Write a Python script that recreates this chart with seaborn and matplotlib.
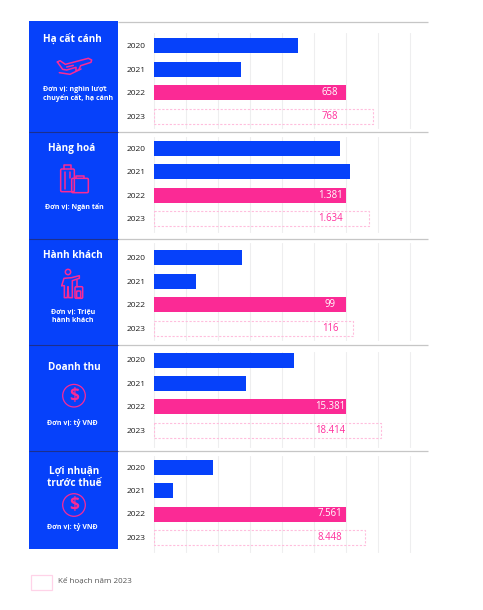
import matplotlib
matplotlib.use("Agg")
import matplotlib.pyplot as plt
from matplotlib.patches import Rectangle, Circle, FancyBboxPatch
import pandas as pd
import seaborn as sns

W, H = 483, 610
BLUE = "#0641FA"
PINK = "#FB2A95"
PLAN = "#FFBEDD"

years = ["2020", "2021", "2022", "2023"]
takeoff_values = [493, 298, 658, 750]
cargo_values = [1338, 1410, 1381, 1544]
passenger_values = [45.4, 21.5, 99, 102.6]
revenue_values = [11240, 7394, 15381, 18160]
profit_values = [2323, 748, 7561, 8297]
all_values = [takeoff_values, cargo_values, passenger_values, revenue_values, profit_values]

label_2022 = ["658", "1.381", "99", "15.381", "7.561"]
label_2023 = ["768", "1.634", "116", "18.414", "8.448"]
titles = ["Hạ cất cánh", "Hàng hoá", "Hành khách", "Doanh thu", "Lợi nhuận\ntrước thuế"]
units = ["Đơn vị: nghìn lượt\nchuyến cất, hạ cánh", "Đơn vị: Ngàn tấn", "Đơn vị: Triệu\nhành khách",
         "Đơn vị: tỷ VNĐ", "Đơn vị: tỷ VNĐ"]
legend_label = "Kế hoạch năm 2023"

sns.set_theme(style="white")
plt.rcParams["font.family"] = ["Open Sans", "DejaVu Sans"]

fig = plt.figure(figsize=(W / 100, H / 100), dpi=100, facecolor="white")

# overlay in pixel coordinates for the decorative layout
bg = fig.add_axes([0, 0, 1, 1], zorder=0)
bg.set_xlim(0, W)
bg.set_ylim(H, 0)
bg.axis("off")
top = fig.add_axes([0, 0, 1, 1], zorder=5)
top.set_xlim(0, W)
top.set_ylim(H, 0)
top.axis("off")
top.patch.set_alpha(0)

bg.add_patch(Rectangle((29, 21), 89, 528, fc=BLUE, ec="none"))
for y in [21.5, 132.3, 239.2, 345, 451.2]:
    bg.plot([118, 428], [y, y], color="#C6C6C6", lw=0.9, solid_capstyle="butt")
    if y > 22:
        bg.plot([29, 118], [y, y], color="#1C2F8E", lw=0.8, solid_capstyle="butt")

grid_spans = [(33, 128), (137, 232), (243, 340), (352, 447), (456, 552)]
first_centre = [45.5, 148.5, 258, 360, 467]
row_step = [23.5, 23.5, 23.4, 23.4, 23.5]

for i, (vals, span) in enumerate(zip(all_values, grid_spans)):
    ytop, ybot = span
    ax = fig.add_axes([154 / W, 1 - ybot / H, 256 / W, (ybot - ytop) / H], zorder=2)
    ax.patch.set_alpha(0)
    df = pd.DataFrame({"year": years, "value": vals})
    sns.barplot(data=df, y="year", x="value", hue="year", dodge=False, legend=False,
                palette=[BLUE, BLUE, PINK, PINK], width=15 / row_step[i], saturation=1,
                linewidth=0, ax=ax, zorder=3)
    plan = ax.containers[3].patches[0]
    plan.set_facecolor("none")
    plan.set_edgecolor(PLAN)
    plan.set_linewidth(0.8)
    plan.set_linestyle((0, (2, 1.5)))
    ref = vals[2]
    ax.set_xlim(0, ref * 8 / 6)
    ax.set_ylim((ybot - first_centre[i]) / row_step[i], (ytop - first_centre[i]) / row_step[i])
    ax.set_xticks([ref * k / 6 for k in range(9)])
    ax.set_xticklabels([])
    ax.grid(axis="x", color="#EEEEEF", lw=0.8)
    for g in ax.get_xgridlines():
        g.set_clip_on(False)
    ax.set_axisbelow(True)
    ax.set_xlabel("")
    ax.set_ylabel("")
    ax.tick_params(axis="y", length=0, pad=6.0, labelsize=6, labelcolor="#1F1F1F")
    ax.tick_params(axis="x", length=0)
    for s in ax.spines.values():
        s.set_visible(False)
    trans = ax.get_yaxis_transform()
    ax.text(176 / 256, 2, label_2022[i], transform=trans, color="white", fontsize=6.9,
            ha="center", va="center", zorder=5)
    ax.text(176 / 256, 3, label_2023[i], transform=trans, color="#FF2F9C", fontsize=6.9,
            ha="center", va="center", zorder=5)

# side panel text
title_pos = [(72, 39), (72, 149), (73, 255.5), (74, 367.5), (74, 477.5)]
for t, (x, y) in zip(titles, title_pos):
    top.text(x, y, t, color="white", fontsize=7.2, fontweight="bold", ha="center", va="center",
             linespacing=1.1)
unit_pos = [(42.7, 94, "left"), (74.5, 207, "center"), (72.7, 316, "center"), (72, 422.7, "center"), (72, 526.7, "center")]
for t, (x, y, ha) in zip(units, unit_pos):
    top.text(x, y, t, color="white", fontsize=5.0, fontweight="bold", ha=ha, va="center",
             linespacing=1.2, multialignment=ha)

ic = dict(color=PINK, lw=1.1, solid_capstyle="round", solid_joinstyle="round")


def zline(pts, x0, y0):
    top.plot([x0 + p[0] / 3 for p in pts], [y0 + p[1] / 3 for p in pts], **ic)


def zrect(x1, y1, x2, y2, x0, y0, r=1.2):
    top.add_patch(FancyBboxPatch((x0 + x1 / 3 + r, y0 + y1 / 3 + r), (x2 - x1) / 3 - 2 * r, (y2 - y1) / 3 - 2 * r,
                                 boxstyle=f"round,pad={r}", fc="none", ec=PINK, lw=1.1))


# plane
zline([(112, 156), (120, 152), (136, 163), (205, 145), (215, 150), (213, 157), (182, 167), (176, 180),
       (168, 182), (168, 172), (140, 180), (128, 178), (112, 156)], 20, 10)
zline([(118, 188), (150, 193), (183, 177)], 20, 10)
zline([(140, 171), (160, 166)], 20, 10)

# luggage
zrect(122, 477, 163, 545, 20, 10)
zline([(133, 477), (133, 464), (153, 464), (153, 477)], 20, 10)
zline([(135, 485), (135, 538)], 20, 10)
zline([(150, 485), (150, 505)], 20, 10)
zrect(155, 505, 205, 548, 20, 10)
zline([(168, 505), (168, 497), (192, 497), (192, 505)], 20, 10)

# passenger
top.add_patch(Circle((20 + 144 / 3, 235 + 111 / 3), 8 / 3, fc="none", ec=PINK, lw=1.1))
zline([(125, 152), (132, 130), (155, 128), (178, 122), (178, 130), (157, 137), (157, 188), (146, 188),
       (144, 155), (142, 188), (133, 188), (133, 152), (125, 152)], 20, 235)
zrect(165, 155, 188, 190, 20, 235)
zline([(172, 155), (172, 135)], 20, 235)
zrect(170, 168, 182, 188, 20, 235, r=0.6)

# dollar icons
for cy in (395.7, 505):
    top.add_patch(Circle((74, cy), 11.3, fc="none", ec=PINK, lw=0.9))
    top.text(74, cy, "$", color=PINK, fontsize=12.5, fontweight="bold", ha="center", va="center")

# legend
top.add_patch(Rectangle((30.5, 574.5), 21, 15, fc="none", ec="#FFD3E8", lw=0.9))
top.text(58.5, 581, legend_label, color="#555555", fontsize=5.8, ha="left", va="center")

fig.savefig("out.png", dpi=100, facecolor="white")
